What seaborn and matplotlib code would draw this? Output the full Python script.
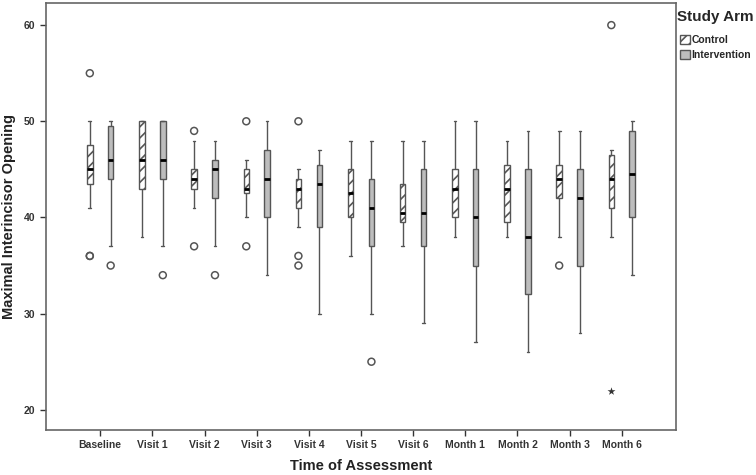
import pandas as pd
import seaborn as sns
import matplotlib.pyplot as plt
from matplotlib.patches import Patch

times = ["Baseline", "Visit 1", "Visit 2", "Visit 3", "Visit 4", "Visit 5",
         "Visit 6", "Month 1", "Month 2", "Month 3", "Month 6"]
arms = ["Control", "Intervention"]

# five-number summaries (whisker low, Q1, median, Q3, whisker high)
control_low = [41, 38, 41, 40, 39, 36, 37, 38, 38, 38, 38]
control_q1 = [43.5, 43, 43, 42.5, 41, 40, 39.5, 40, 39.5, 42, 41]
control_med = [45, 46, 44, 43, 43, 42.5, 40.5, 43, 43, 44, 44]
control_q3 = [47.5, 50, 45, 45, 44, 45, 43.5, 45, 45.5, 45.5, 46.5]
control_high = [50, 50, 48, 46, 45, 48, 48, 50, 48, 49, 47]

interv_low = [37, 37, 37, 34, 30, 30, 29, 27, 26, 28, 34]
interv_q1 = [44, 44, 42, 40, 39, 37, 37, 35, 32, 35, 40]
interv_med = [46, 46, 45, 44, 43.5, 41, 40.5, 40, 38, 42, 44.5]
interv_q3 = [49.5, 50, 46, 47, 45.5, 44, 45, 45, 45, 45, 49]
interv_high = [50, 50, 48, 50, 47, 48, 48, 50, 49, 49, 50]

# outliers (circles) and extreme values (stars)
out_time = ["Baseline", "Baseline", "Baseline", "Baseline", "Visit 1", "Visit 2",
            "Visit 2", "Visit 2", "Visit 3", "Visit 3", "Visit 4", "Visit 4",
            "Visit 4", "Visit 5", "Month 3", "Month 6"]
out_arm = ["Control", "Control", "Control", "Intervention", "Intervention", "Control",
           "Control", "Intervention", "Control", "Control", "Control", "Control",
           "Control", "Intervention", "Control", "Control"]
out_value = [55, 36, 36, 35, 34, 49, 37, 34, 50, 37, 50, 36, 35, 25, 35, 60]

ext_time = ["Month 6"]
ext_arm = ["Control"]
ext_value = [22]

rows = []
summaries = {
    "Control": [control_low, control_q1, control_med, control_q3, control_high],
    "Intervention": [interv_low, interv_q1, interv_med, interv_q3, interv_high],
}
for arm, stats in summaries.items():
    for i, t in enumerate(times):
        for s in stats:
            rows.append({"Time": t, "Arm": arm, "MIO": s[i]})
df = pd.DataFrame(rows)
outliers = pd.DataFrame({"Time": out_time, "Arm": out_arm, "MIO": out_value})
extremes = pd.DataFrame({"Time": ext_time, "Arm": ext_arm, "MIO": ext_value})

sns.set_style("ticks")
plt.rcParams["font.family"] = ["Liberation Sans", "DejaVu Sans"]
plt.rcParams["font.weight"] = "bold"
plt.rcParams["hatch.linewidth"] = 1.2
plt.rcParams["hatch.color"] = "#555555"

edge = "#555555"
pal = {"Control": "white", "Intervention": "#bdbdbd"}

fig = plt.figure(figsize=(7.56, 4.75), dpi=100)
ax = fig.add_axes([46 / 756, 1 - 430 / 475, 630 / 756, 427 / 475])

sns.boxplot(data=df, x="Time", y="MIO", hue="Arm", order=times, hue_order=arms,
            palette=pal, saturation=1, whis=(0, 100), gap=0.74, linecolor=edge,
            linewidth=1, legend=False, ax=ax,
            medianprops={"color": "black", "linewidth": 2})

for p in ax.patches:
    if p.get_facecolor()[:3] == (1.0, 1.0, 1.0):
        p.set_hatch("///")

n_before = len(ax.collections)
sns.stripplot(data=outliers, x="Time", y="MIO", hue="Arm", order=times, hue_order=arms,
              dodge=True, jitter=False, palette=pal, size=5, linewidth=1.1,
              edgecolor=edge, legend=False, ax=ax)
for c in ax.collections[n_before:]:
    c.set_facecolor("none")
    c.set_edgecolor(edge)

sns.stripplot(data=extremes, x="Time", y="MIO", hue="Arm", order=times, hue_order=arms,
              dodge=True, jitter=False, palette={"Control": "#333333", "Intervention": "#333333"},
              marker="*", size=6, linewidth=0, legend=False, ax=ax)

ax.set_xlim(-1.04, len(times) - 1 + 1.04)
ax.set_ylim(17.9, 62.3)
ax.set_yticks([20, 30, 40, 50, 60])
ax.set_xlabel("Time of Assessment", fontsize=10.5, fontweight="bold", color="#222222", labelpad=6)
ax.set_ylabel("Maximal Interincisor Opening", fontsize=10.5, fontweight="bold", color="#222222", labelpad=6)
ax.tick_params(axis="both", labelsize=7.5, colors="#333333", length=4, width=1, direction="out")
for lab in ax.get_xticklabels() + ax.get_yticklabels():
    lab.set_fontweight("bold")
for s in ax.spines.values():
    s.set_visible(True)
    s.set_color("#666666")
    s.set_linewidth(1.2)

handles = [Patch(facecolor="white", edgecolor=edge, hatch="///", label="Control"),
           Patch(facecolor="#bdbdbd", edgecolor=edge, label="Intervention")]
leg = fig.legend(handles=handles, title="Study Arm", loc="upper left",
                 bbox_to_anchor=(677 / 756, 1 - 10 / 475), frameon=False,
                 prop={"weight": "bold", "size": 7.5}, handlelength=0.95, handleheight=0.95,
                 handletextpad=0.15, labelspacing=0.5, borderaxespad=0, borderpad=0)
leg.get_title().set_fontweight("bold")
leg.get_title().set_fontsize(11)
leg._legend_box.align = "center"
leg._legend_box.sep = 8

fig.savefig("out.png", dpi=100)
